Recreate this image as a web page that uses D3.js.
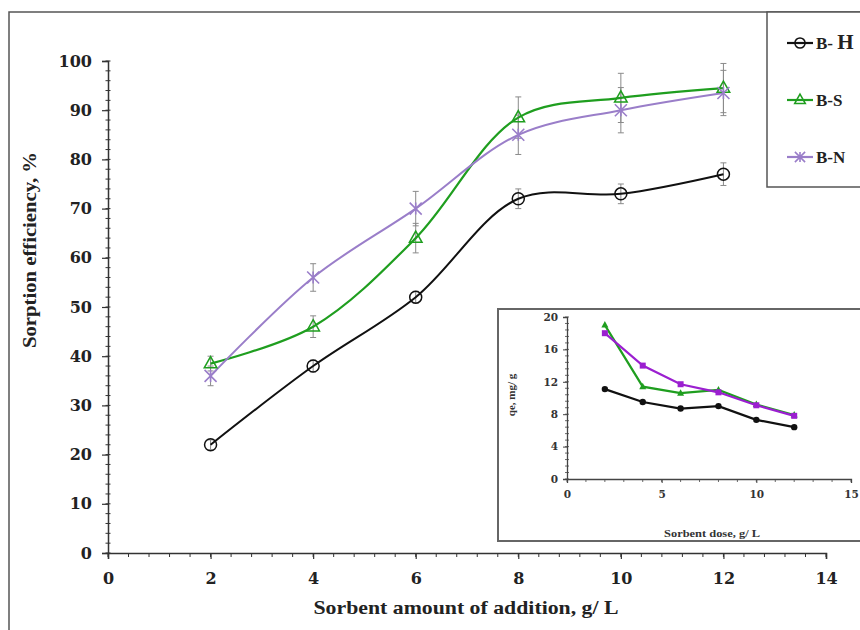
<!DOCTYPE html>
<html>
<head>
<meta charset="utf-8">
<script src="https://cdn.jsdelivr.net/npm/d3@7"></script>
<style>
  body { margin: 0; background: #fff; }
  svg { display: block; }
  .tick text { font-family: "DejaVu Serif", serif; font-weight: bold; }
</style>
</head>
<body>
<svg id="chart" width="860" height="630"></svg>
<script>
// The data
var dose = [2, 4, 6, 8, 10, 12];
var effBH = [22, 38, 52, 72, 73, 77];
var errBH = [1, 1.2, 1.2, 2, 2, 2.3];
var effBS = [38.5, 46, 64, 88.5, 92.5, 94.5];
var errBS = [1.5, 2.2, 3, 4.2, 5, 5];
var effBN = [36, 56, 70, 85, 90, 93.5];
var errBN = [2, 2.8, 3.5, 4, 4.6, 4.6];

// inset: qe vs dose
var qeBH = [11.1, 9.5, 8.7, 9.0, 7.3, 6.4];
var qeBS = [19.0, 11.4, 10.6, 11.0, 9.2, 7.9];
var qeBN = [18.0, 14.0, 11.7, 10.7, 9.1, 7.8];

// tick labels
var xTicks = [0, 2, 4, 6, 8, 10, 12, 14];
var yTicks = [0, 10, 20, 30, 40, 50, 60, 70, 80, 90, 100];
var insetXTicks = [0, 5, 10, 15];
var insetYTicks = [0, 4, 8, 12, 16, 20];

var seriesNames = ['B- H', 'B-S', 'B-N'];

var svg = d3.select('svg#chart');

// outer frame (left and top edges only are visible)
svg.append('path')
  .attr('d', 'M9,630 V12 H860')
  .attr('fill', 'none')
  .attr('stroke', '#555')
  .attr('stroke-width', 1.5);

////////////
// MAIN PLOT
////////////
var x = d3.scaleLinear().domain([0, 14]).range([108, 826]);
var y = d3.scaleLinear().domain([0, 100]).range([553, 61]);

// minor ticks
var gMinor = svg.append('g');
gMinor.selectAll('line.ym')
  .data(d3.range(0, 100.01, 2))
  .enter().append('line')
  .attr('x1', x(0) - 2.5).attr('x2', x(0) + 2.5)
  .attr('y1', function(d){ return y(d); })
  .attr('y2', function(d){ return y(d); })
  .attr('stroke', '#333').attr('stroke-width', 1);
gMinor.selectAll('line.xm')
  .data(d3.range(0, 14.01, 0.4))
  .enter().append('line')
  .attr('x1', function(d){ return x(d); })
  .attr('x2', function(d){ return x(d); })
  .attr('y1', y(0)).attr('y2', y(0) + 4)
  .attr('stroke', '#333').attr('stroke-width', 1);

var yAxis = svg.append('g')
  .attr('transform', 'translate(' + x(0) + ',0)')
  .call(d3.axisLeft(y).tickValues(yTicks).tickSize(6).tickPadding(10));
var xAxis = svg.append('g')
  .attr('transform', 'translate(0,' + y(0) + ')')
  .call(d3.axisBottom(x).tickValues(xTicks).tickSize(6).tickPadding(14));
[xAxis, yAxis].forEach(function(a){
  a.select('.domain').attr('stroke', '#333').attr('stroke-width', 1.5);
  a.selectAll('.tick line').attr('stroke', '#333').attr('stroke-width', 1.2);
  a.selectAll('.tick text').attr('font-size', 16).attr('fill', '#222');
});

// axis titles
svg.append('text')
  .text('Sorbent amount of addition, g/ L')
  .attr('x', 466).attr('y', 614)
  .attr('text-anchor', 'middle')
  .attr('font-family', '"Liberation Serif", serif')
  .attr('font-weight', 'bold')
  .attr('font-size', 19)
  .attr('textLength', 305).attr('lengthAdjust', 'spacingAndGlyphs')
  .attr('fill', '#222');
svg.append('text')
  .text('Sorption efficiency, %')
  .attr('transform', 'translate(36,250) rotate(-90)')
  .attr('text-anchor', 'middle')
  .attr('font-family', '"Liberation Serif", serif')
  .attr('font-weight', 'bold')
  .attr('font-size', 18)
  .attr('textLength', 196).attr('lengthAdjust', 'spacingAndGlyphs')
  .attr('fill', '#222');

var series = [
  {name: seriesNames[0], vals: effBH, err: errBH, color: '#111', width: 2, marker: 'circle'},
  {name: seriesNames[1], vals: effBS, err: errBS, color: '#1f9e1f', width: 2.2, marker: 'triangle'},
  {name: seriesNames[2], vals: effBN, err: errBN, color: '#9a7ec9', width: 2, marker: 'star'}
];

// error bars first so they sit behind
series.forEach(function(s){
  var g = svg.append('g').attr('stroke', '#8a8a8a').attr('stroke-width', 1);
  dose.forEach(function(d, i){
    var lo = y(s.vals[i] - s.err[i]), hi = y(s.vals[i] + s.err[i]);
    g.append('line').attr('x1', x(d)).attr('x2', x(d)).attr('y1', lo).attr('y2', hi);
    g.append('line').attr('x1', x(d) - 3).attr('x2', x(d) + 3).attr('y1', lo).attr('y2', lo);
    g.append('line').attr('x1', x(d) - 3).attr('x2', x(d) + 3).attr('y1', hi).attr('y2', hi);
  });
});

var line = d3.line()
  .x(function(d, i){ return x(dose[i]); })
  .y(function(d){ return y(d); })
  .curve(d3.curveCatmullRom.alpha(0.5));

series.forEach(function(s){
  svg.append('path')
    .attr('d', line(s.vals))
    .attr('fill', 'none')
    .attr('stroke', s.color)
    .attr('stroke-width', s.width);
});

function drawMarker(g, type, cx, cy, color, scale) {
  scale = scale || 1;
  if (type === 'circle') {
    g.append('circle').attr('cx', cx).attr('cy', cy).attr('r', 6 * scale)
      .attr('fill', 'none').attr('stroke', color).attr('stroke-width', 1.5);
  } else if (type === 'triangle') {
    var r = 7 * scale;
    g.append('path')
      .attr('d', 'M' + cx + ',' + (cy - r) + ' L' + (cx + r * 0.9) + ',' + (cy + r * 0.6) +
        ' L' + (cx - r * 0.9) + ',' + (cy + r * 0.6) + ' Z')
      .attr('fill', 'none').attr('stroke', color).attr('stroke-width', 1.5);
  } else if (type === 'star') {
    var a = 6 * scale;
    g.append('path')
      .attr('d', 'M' + (cx - a) + ',' + (cy - a) + ' L' + (cx + a) + ',' + (cy + a) +
        ' M' + (cx - a) + ',' + (cy + a) + ' L' + (cx + a) + ',' + (cy - a) +
        ' M' + cx + ',' + (cy - a) + ' L' + cx + ',' + (cy + a))
      .attr('fill', 'none').attr('stroke', color).attr('stroke-width', 1.6);
  }
}

series.forEach(function(s){
  var g = svg.append('g');
  dose.forEach(function(d, i){
    drawMarker(g, s.marker, x(d), y(s.vals[i]), s.color);
  });
});

/////////
// LEGEND
/////////
svg.append('path')
  .attr('d', 'M860,187 H767 V12 H860')
  .attr('fill', '#fff')
  .attr('stroke', '#555')
  .attr('stroke-width', 1.5);

var legendY = [43, 100, 157];
series.forEach(function(s, i){
  var g = svg.append('g');
  g.append('line')
    .attr('x1', 787).attr('x2', 813)
    .attr('y1', legendY[i]).attr('y2', legendY[i])
    .attr('stroke', s.color).attr('stroke-width', 2.2);
  drawMarker(g, s.marker, 800, legendY[i], s.color, 0.85);
  var t = g.append('text')
    .attr('x', 816).attr('y', legendY[i] + 6)
    .attr('font-family', '"Liberation Serif", serif')
    .attr('font-weight', 'bold')
    .attr('font-size', 17)
    .attr('fill', '#222');
  if (i === 0) {
    t.append('tspan').text('B- ');
    t.append('tspan').text('H').attr('font-size', 21);
  } else {
    t.text(s.name);
  }
});

////////
// INSET
////////
svg.append('path')
  .attr('d', 'M860,541 H498 V309 H860')
  .attr('fill', '#fff')
  .attr('stroke', '#666')
  .attr('stroke-width', 2);

var ix = d3.scaleLinear().domain([0, 15]).range([567, 851]);
var iy = d3.scaleLinear().domain([0, 20]).range([479, 317]);

var gi = svg.append('g');
gi.selectAll('line.iym')
  .data(d3.range(0, 20.01, 0.8))
  .enter().append('line')
  .attr('x1', ix(0) - 2).attr('x2', ix(0) + 2)
  .attr('y1', function(d){ return iy(d); })
  .attr('y2', function(d){ return iy(d); })
  .attr('stroke', '#444').attr('stroke-width', 0.8);
gi.selectAll('line.ixm')
  .data(d3.range(0, 15.01, 1))
  .enter().append('line')
  .attr('x1', function(d){ return ix(d); })
  .attr('x2', function(d){ return ix(d); })
  .attr('y1', iy(0)).attr('y2', iy(0) + 3)
  .attr('stroke', '#444').attr('stroke-width', 0.8);

var iyAxis = svg.append('g')
  .attr('transform', 'translate(' + ix(0) + ',0)')
  .call(d3.axisLeft(iy).tickValues(insetYTicks).tickSize(4).tickPadding(5));
var ixAxis = svg.append('g')
  .attr('transform', 'translate(0,' + iy(0) + ')')
  .call(d3.axisBottom(ix).tickValues(insetXTicks).tickSize(4).tickPadding(8));
[ixAxis, iyAxis].forEach(function(a){
  a.select('.domain').attr('stroke', '#444').attr('stroke-width', 1.3);
  a.selectAll('.tick line').attr('stroke', '#444');
  a.selectAll('.tick text').attr('font-size', 10.5).attr('fill', '#333');
});

svg.append('text')
  .text('Sorbent dose, g/ L')
  .attr('x', 712).attr('y', 537)
  .attr('text-anchor', 'middle')
  .attr('font-family', '"Liberation Serif", serif')
  .attr('font-weight', 'bold')
  .attr('font-size', 11)
  .attr('textLength', 96).attr('lengthAdjust', 'spacingAndGlyphs')
  .attr('fill', '#333');
svg.append('text')
  .text('qe, mg/ g')
  .attr('transform', 'translate(515,395) rotate(-90)')
  .attr('text-anchor', 'middle')
  .attr('font-family', '"Liberation Serif", serif')
  .attr('font-weight', 'bold')
  .attr('font-size', 11)
  .attr('fill', '#333');

var insetSeries = [
  {vals: qeBH, color: '#111', marker: 'circle'},
  {vals: qeBS, color: '#1f9e1f', marker: 'triangle'},
  {vals: qeBN, color: '#9b1fd0', marker: 'square'}
];
var iline = d3.line()
  .x(function(d, i){ return ix(dose[i]); })
  .y(function(d){ return iy(d); });

insetSeries.forEach(function(s){
  svg.append('path')
    .attr('d', iline(s.vals))
    .attr('fill', 'none')
    .attr('stroke', s.color)
    .attr('stroke-width', 2.2);
  var g = svg.append('g').attr('fill', s.color);
  dose.forEach(function(d, i){
    var cx = ix(d), cy = iy(s.vals[i]);
    if (s.marker === 'circle') {
      g.append('circle').attr('cx', cx).attr('cy', cy).attr('r', 3.2);
    } else if (s.marker === 'triangle') {
      g.append('path').attr('d', 'M' + cx + ',' + (cy - 4) + ' L' + (cx + 3.5) + ',' + (cy + 2.5) +
        ' L' + (cx - 3.5) + ',' + (cy + 2.5) + ' Z');
    } else {
      g.append('rect').attr('x', cx - 3).attr('y', cy - 3).attr('width', 6).attr('height', 6);
    }
  });
});
</script>
</body>
</html>
